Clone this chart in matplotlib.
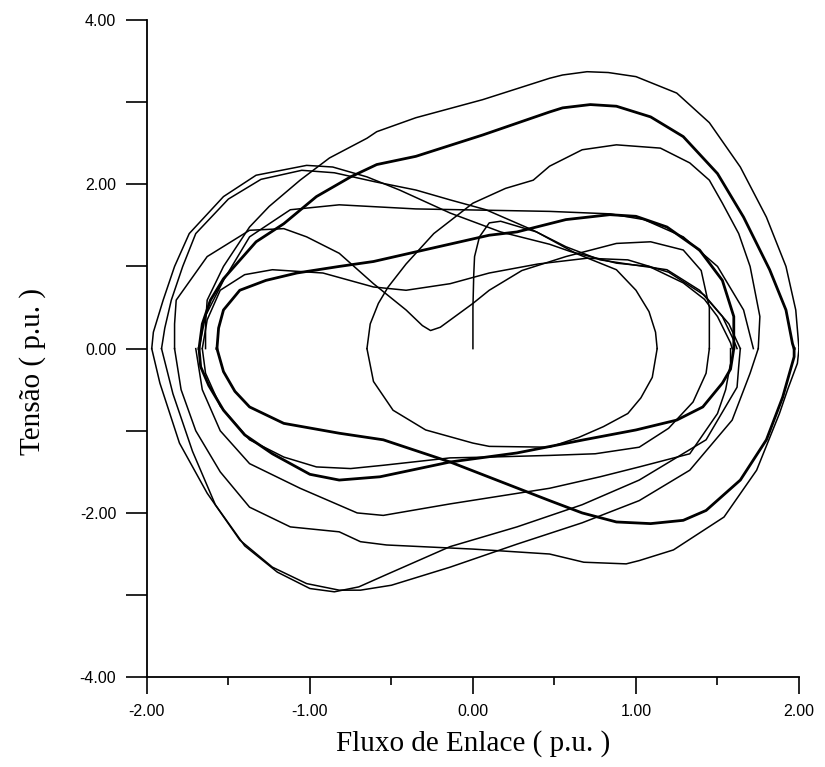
import matplotlib
matplotlib.use('Agg')
import matplotlib.pyplot as plt
from matplotlib.ticker import MultipleLocator, FormatStrFormatter

# trajectory pieces (flux, voltage in p.u.)
# start-up: straight up from the origin, hook, first small loop
start_x = [0.0, 0.0, 0.005, 0.01, 0.04, 0.1, 0.17, 0.39, 0.63, 0.88, 1.0, 1.08, 1.12, 1.13]
start_y = [0.0, 0.5, 0.9, 1.12, 1.36, 1.53, 1.55, 1.42, 1.16, 0.96, 0.71, 0.45, 0.2, 0.0]

inner_x = [1.13, 1.1, 1.03, 0.95, 0.8, 0.65, 0.47, 0.1, 0.0, -0.29, -0.49, -0.61, -0.65]
inner_y = [0.0, -0.35, -0.6, -0.79, -0.95, -1.08, -1.2, -1.19, -1.15, -0.99, -0.75, -0.4, 0.0]

rise_x = [-0.65, -0.63, -0.58, -0.52, -0.41, -0.24, 0.0, 0.2, 0.37, 0.47, 0.67, 0.88, 1.15, 1.33, 1.45, 1.53, 1.63, 1.70, 1.76, 1.75]
rise_y = [0.0, 0.3, 0.55, 0.75, 1.03, 1.40, 1.77, 1.95, 2.05, 2.22, 2.42, 2.48, 2.44, 2.26, 2.05, 1.77, 1.4, 1.0, 0.39, 0.0]

drop_x = [1.75, 1.70, 1.59, 1.33, 1.02, 0.67, 0.27, -0.14, -0.5, -0.69, -0.82, -1.02, -1.23, -1.43, -1.63, -1.80, -1.92, -1.97]
drop_y = [0.0, -0.3, -0.87, -1.48, -1.85, -2.12, -2.38, -2.66, -2.88, -2.94, -2.94, -2.86, -2.66, -2.33, -1.76, -1.15, -0.42, 0.0]

# loops that pass over the upper left corner
tl_a_x = [-1.97, -1.96, -1.9, -1.83, -1.74, -1.53, -1.33, -1.02, -0.86, -0.65, -0.45, -0.14, 0.17, 0.47, 0.6, 0.88, 1.08, 1.29, 1.42, 1.5, 1.58, 1.59]
tl_a_y = [0.0, 0.2, 0.59, 1.0, 1.40, 1.85, 2.11, 2.23, 2.21, 2.09, 1.93, 1.65, 1.42, 1.27, 1.18, 1.04, 1.0, 0.8, 0.6, 0.39, 0.07, 0.0]

tl_b_x = [-1.91, -1.89, -1.85, -1.78, -1.70, -1.50, -1.30, -1.05, -0.85, -0.6, -0.35, -0.14, 0.08, 0.37, 0.57, 0.78, 0.98, 1.19, 1.39, 1.53, 1.6, 1.62]
tl_b_y = [0.0, 0.25, 0.59, 1.0, 1.40, 1.82, 2.06, 2.17, 2.14, 2.03, 1.93, 1.81, 1.69, 1.44, 1.24, 1.08, 1.02, 0.96, 0.71, 0.39, 0.1, 0.0]

low58_x = [1.58, 1.58, 1.55, 1.5, 1.33, 1.02, 0.78, 0.47, -0.14, -0.55, -0.71, -1.06, -1.37, -1.55, -1.66, -1.70]
low58_y = [0.0, -0.18, -0.5, -0.79, -1.28, -1.44, -1.56, -1.70, -1.89, -2.03, -2.0, -1.7, -1.4, -1.0, -0.5, 0.0]

# highest arc (peak 3.37) and the outer lower arc
high_x = [-1.64, -1.64, -1.63, -1.53, -1.37, -1.25, -1.06, -0.88, -0.65, -0.59, -0.35, 0.06, 0.47, 0.55, 0.7, 0.83, 1.0, 1.25, 1.45, 1.64, 1.80, 1.92, 1.98, 2.0]
high_y = [0.0, 0.3, 0.59, 1.0, 1.48, 1.73, 2.05, 2.32, 2.56, 2.64, 2.81, 3.03, 3.29, 3.33, 3.37, 3.36, 3.31, 3.11, 2.75, 2.21, 1.6, 1.0, 0.47, 0.0]

outer_x = [2.0, 1.99, 1.93, 1.88, 1.74, 1.54, 1.23, 1.02, 0.94, 0.68, 0.47, 0.0, -0.53, -0.69, -0.82, -1.12, -1.37, -1.55, -1.7, -1.79, -1.83]
outer_y = [0.0, -0.18, -0.5, -0.79, -1.48, -2.05, -2.45, -2.58, -2.62, -2.6, -2.5, -2.44, -2.39, -2.35, -2.23, -2.17, -1.93, -1.5, -1.0, -0.5, 0.0]

# arc with the V-shaped dip
vdip_x = [-1.83, -1.83, -1.82, -1.63, -1.37, -1.16, -1.02, -0.82, -0.61, -0.41, -0.31, -0.26, -0.2, 0.0, 0.1, 0.3, 0.57, 0.88, 1.09, 1.29, 1.4, 1.45, 1.45]
vdip_y = [0.0, 0.3, 0.59, 1.12, 1.44, 1.46, 1.36, 1.16, 0.79, 0.47, 0.28, 0.22, 0.26, 0.55, 0.71, 0.95, 1.12, 1.28, 1.30, 1.2, 0.95, 0.5, 0.0]

low_b_x = [1.45, 1.43, 1.35, 1.2, 1.02, 0.75, 0.47, 0.1, -0.14, -0.55, -0.75, -0.96, -1.16, -1.37, -1.55, -1.64, -1.66]
low_b_y = [0.0, -0.3, -0.65, -0.97, -1.2, -1.28, -1.3, -1.32, -1.33, -1.42, -1.46, -1.44, -1.32, -1.11, -0.7, -0.3, 0.0]

dip_x = [-1.66, -1.63, -1.55, -1.4, -1.23, -0.92, -0.61, -0.41, -0.14, 0.1, 0.4, 0.7, 0.95, 1.2, 1.42, 1.57, 1.64]
dip_y = [0.0, 0.35, 0.71, 0.9, 0.96, 0.92, 0.75, 0.71, 0.79, 0.92, 1.03, 1.1, 1.08, 0.93, 0.65, 0.3, 0.0]

drop9_x = [1.64, 1.63, 1.62, 1.43, 1.02, 0.67, 0.27, -0.14, -0.53, -0.7, -0.85, -1.0, -1.2, -1.4, -1.58, -1.72, -1.84, -1.91]
drop9_y = [0.0, -0.22, -0.47, -1.11, -1.6, -1.9, -2.17, -2.41, -2.75, -2.9, -2.96, -2.92, -2.72, -2.4, -1.9, -1.25, -0.55, 0.0]

flat_x = [-1.68, -1.64, -1.53, -1.37, -1.12, -0.82, -0.35, 0.47, 0.84, 1.05, 1.29, 1.5, 1.66, 1.72]
flat_y = [0.0, 0.4, 0.83, 1.36, 1.69, 1.75, 1.7, 1.67, 1.64, 1.57, 1.36, 1.0, 0.47, 0.0]

# steady state orbit (drawn many times -> thick)
eye_top_x = [-1.57, -1.56, -1.53, -1.43, -1.27, -1.08, -0.82, -0.61, -0.30, 0.10, 0.27, 0.57, 0.84, 1.0, 1.19, 1.39, 1.53, 1.6, 1.6]
eye_top_y = [0.0, 0.25, 0.47, 0.71, 0.83, 0.92, 1.0, 1.06, 1.2, 1.38, 1.42, 1.57, 1.63, 1.61, 1.48, 1.2, 0.83, 0.39, 0.0]

eye_bot_x = [1.6, 1.58, 1.53, 1.41, 1.25, 1.0, 0.68, 0.27, -0.14, -0.57, -0.82, -1.0, -1.23, -1.4, -1.53, -1.62, -1.67, -1.68]
eye_bot_y = [0.0, -0.25, -0.42, -0.71, -0.87, -0.99, -1.11, -1.27, -1.38, -1.56, -1.6, -1.53, -1.28, -1.05, -0.75, -0.45, -0.22, 0.0]

big_top_x = [-1.68, -1.66, -1.61, -1.53, -1.33, -1.16, -0.96, -0.75, -0.59, -0.35, 0.06, 0.47, 0.55, 0.72, 0.88, 1.09, 1.29, 1.5, 1.66, 1.82, 1.92, 1.96, 1.97]
big_top_y = [0.0, 0.3, 0.59, 0.85, 1.3, 1.52, 1.85, 2.09, 2.24, 2.34, 2.6, 2.88, 2.93, 2.97, 2.95, 2.82, 2.58, 2.13, 1.6, 0.96, 0.47, 0.06, 0.0]

big_bot_x = [1.97, 1.97, 1.9, 1.8, 1.64, 1.43, 1.29, 1.09, 0.88, 0.67, 0.47, -0.14, -0.55, -0.82, -1.16, -1.37, -1.46, -1.53, -1.57]
big_bot_y = [0.0, -0.1, -0.59, -1.11, -1.6, -1.97, -2.09, -2.13, -2.11, -2.0, -1.85, -1.38, -1.11, -1.03, -0.91, -0.71, -0.52, -0.28, 0.0]

thin = [(start_x, start_y), (inner_x, inner_y), (rise_x, rise_y), (drop_x, drop_y),
        (tl_a_x, tl_a_y), (tl_b_x, tl_b_y), (low58_x, low58_y), (high_x, high_y),
        (outer_x, outer_y), (vdip_x, vdip_y), (low_b_x, low_b_y), (dip_x, dip_y),
        (drop9_x, drop9_y), (flat_x, flat_y)]
thick = [(eye_top_x, eye_top_y), (eye_bot_x, eye_bot_y), (big_top_x, big_top_y), (big_bot_x, big_bot_y)]

fig = plt.figure(figsize=(8.25, 7.67), dpi=100)
ax = fig.add_axes([0.178, 0.117, 0.7905, 0.857])

for xs, ys in thin:
    ax.plot(xs, ys, color='black', lw=1.1, solid_joinstyle='round')
for xs, ys in thick:
    ax.plot(xs, ys, color='black', lw=2.0, solid_joinstyle='round')

ax.set_xlim(-2, 2)
ax.set_ylim(-4, 4)
ax.spines['top'].set_visible(False)
ax.spines['right'].set_visible(False)
ax.spines['left'].set_linewidth(1.3)
ax.spines['bottom'].set_linewidth(1.3)

ax.xaxis.set_major_locator(MultipleLocator(1))
ax.xaxis.set_minor_locator(MultipleLocator(0.5))
ax.yaxis.set_major_locator(MultipleLocator(2))
ax.yaxis.set_minor_locator(MultipleLocator(1))
ax.xaxis.set_major_formatter(FormatStrFormatter('%.2f'))
ax.yaxis.set_major_formatter(FormatStrFormatter('%.2f'))

ax.tick_params(axis='y', which='both', length=15, width=1.2, direction='out', pad=7)
ax.tick_params(axis='x', which='major', length=12, width=1.2, direction='out', pad=7)
ax.tick_params(axis='x', which='minor', length=6, width=1.2, direction='out')
for lab in ax.get_xticklabels() + ax.get_yticklabels():
    lab.set_fontfamily('Liberation Sans')
    lab.set_fontsize(11.5)

ax.set_xlabel('Fluxo de Enlace ( p.u. )', fontfamily='Liberation Serif', fontsize=21, labelpad=8)
ax.set_ylabel('Tensão ( p.u. )', fontfamily='Liberation Serif', fontsize=21)
ax.yaxis.set_label_coords(-0.155, 0.465)

fig.savefig('out.png', dpi=100)
